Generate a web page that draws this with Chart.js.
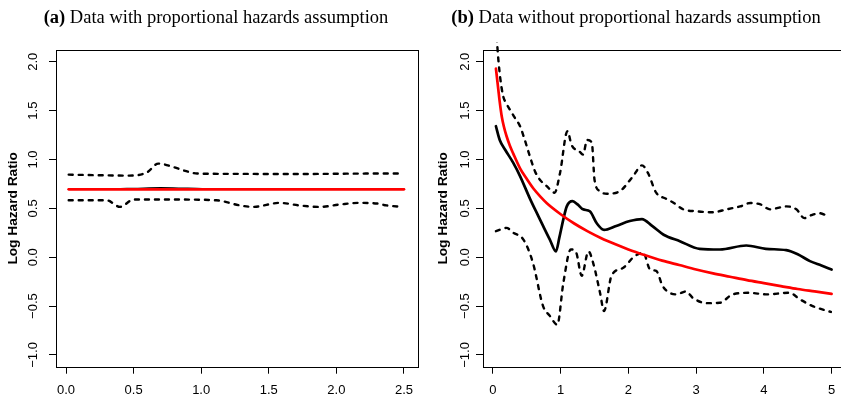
<!DOCTYPE html>
<html><head><meta charset="utf-8">
<script src="https://cdn.jsdelivr.net/npm/chart.js@4/dist/chart.umd.min.js"></script>
<style>
html,body{margin:0;padding:0;background:#fff;overflow:hidden;width:841px;height:398px;position:relative}
#ca{position:absolute;left:0;top:0}
#cb{position:absolute;left:420px;top:0}
</style></head><body>
<canvas id="ca" width="420" height="398"></canvas>
<canvas id="cb" width="430" height="398"></canvas>
<script>
// ---- shared axis ticks ----
const yTicks = [-1, -0.5, 0, 0.5, 1, 1.5, 2];
const yTickLabels = ['\u22121.0', '\u22120.5', '0.0', '0.5', '1.0', '1.5', '2.0'];
const aTicksX = [0, 0.5, 1, 1.5, 2, 2.5];
const aTickLabelsX = ['0.0', '0.5', '1.0', '1.5', '2.0', '2.5'];
const bTicksX = [0, 1, 2, 3, 4, 5];
const bTickLabelsX = ['0', '1', '2', '3', '4', '5'];

// ---- panel (a) ----
const aTrueX = [0.02, 2.5];
const aTrueY = [0.695, 0.695];
const aEstX = [0.02, 0.3, 0.5, 0.7, 0.9, 1.1, 1.5, 2.0, 2.5];
const aEstY = [0.70, 0.70, 0.705, 0.712, 0.706, 0.70, 0.70, 0.70, 0.70];
const aUpX = [0.02, 0.2, 0.47, 0.6, 0.683, 0.79, 0.89, 0.97, 1.2, 1.5, 1.8, 2.1, 2.3, 2.48];
const aUpY = [0.845, 0.84, 0.835, 0.869, 0.958, 0.924, 0.88, 0.856, 0.853, 0.852, 0.852, 0.855, 0.856, 0.856];
const aLoX = [0.02, 0.30, 0.40, 0.50, 0.8, 1.11, 1.29, 1.385, 1.58, 1.73, 1.88, 2.03, 2.17, 2.30, 2.37, 2.49];
const aLoY = [0.583, 0.583, 0.515, 0.59, 0.59, 0.583, 0.529, 0.515, 0.556, 0.529, 0.515, 0.54, 0.556, 0.55, 0.53, 0.515];

// ---- panel (b) ----
const bTrueX = [0.044, 0.08, 0.1, 0.13, 0.16, 0.2, 0.25, 0.3, 0.4, 0.5, 0.6, 0.7, 0.8, 1.0, 1.2, 1.4, 1.6, 1.8, 2.0, 2.25, 2.5, 2.75, 3.0, 3.25, 3.5, 3.75, 4.0, 4.25, 4.5, 4.75, 5.0];
const bTrueY = [1.93, 1.71, 1.59, 1.44, 1.34, 1.24, 1.14, 1.06, 0.91, 0.80, 0.70, 0.62, 0.55, 0.44, 0.345, 0.265, 0.195, 0.135, 0.08, 0.02, -0.035, -0.08, -0.125, -0.165, -0.2, -0.235, -0.265, -0.295, -0.325, -0.35, -0.375];
const bEstX = [0.044, 0.10, 0.18, 0.30, 0.40, 0.546, 0.67, 0.74, 0.84, 0.93, 0.98, 1.04, 1.09, 1.175, 1.25, 1.33, 1.43, 1.53, 1.64, 1.82, 2.02, 2.2, 2.35, 2.52, 2.76, 3.05, 3.35, 3.74, 4.03, 4.33, 4.5, 4.68, 4.85, 5.0];
const bEstY = [1.34, 1.20, 1.10, 0.965, 0.83, 0.60, 0.42, 0.32, 0.18, 0.06, 0.2, 0.39, 0.52, 0.573, 0.54, 0.49, 0.47, 0.35, 0.28, 0.32, 0.37, 0.39, 0.32, 0.23, 0.164, 0.086, 0.079, 0.12, 0.086, 0.072, 0.03, -0.04, -0.085, -0.126];
const bUpX = [0.055, 0.08, 0.11, 0.15, 0.2, 0.25, 0.32, 0.40, 0.47, 0.546, 0.62, 0.69, 0.79, 0.91, 0.99, 1.10, 1.16, 1.28, 1.33, 1.39, 1.46, 1.50, 1.58, 1.68, 1.87, 2.07, 2.20, 2.29, 2.41, 2.55, 2.66, 2.81, 3.0, 3.25, 3.45, 3.65, 3.80, 3.95, 4.09, 4.33, 4.48, 4.60, 4.70, 4.82, 4.95];
const bUpY = [2.25, 2.02, 1.82, 1.65, 1.57, 1.51, 1.43, 1.34, 1.20, 1.03, 0.88, 0.795, 0.73, 0.66, 0.86, 1.29, 1.15, 1.08, 1.05, 1.20, 1.17, 0.79, 0.675, 0.65, 0.675, 0.83, 0.94, 0.86, 0.66, 0.60, 0.56, 0.49, 0.47, 0.46, 0.49, 0.52, 0.555, 0.54, 0.49, 0.52, 0.49, 0.40, 0.43, 0.45, 0.42];
const bLoX = [0.044, 0.20, 0.30, 0.45, 0.59, 0.74, 0.84, 0.95, 1.04, 1.15, 1.23, 1.31, 1.41, 1.48, 1.58, 1.64, 1.75, 1.92, 2.09, 2.22, 2.32, 2.41, 2.51, 2.71, 2.85, 2.95, 3.15, 3.35, 3.54, 3.79, 4.03, 4.38, 4.53, 4.72, 4.99];
const bLoY = [0.266, 0.30, 0.25, 0.18, -0.057, -0.50, -0.60, -0.69, -0.26, 0.08, 0.045, -0.19, 0.06, -0.06, -0.36, -0.55, -0.19, -0.11, 0.01, 0.045, -0.126, -0.14, -0.30, -0.38, -0.35, -0.415, -0.47, -0.466, -0.38, -0.364, -0.38, -0.364, -0.43, -0.50, -0.56];

function pts(xs, ys) { return xs.map((x, i) => ({x: x, y: ys[i]})); }

function decoPlugin(cfg) {
  return {
    id: 'deco',
    beforeDatasetsDraw(chart) {
      const ctx = chart.ctx, a = chart.chartArea;
      ctx.save();
      ctx.strokeStyle = '#000'; ctx.lineWidth = 1;
      ctx.strokeRect(Math.round(a.left) + 0.5, Math.round(a.top) + 0.5, Math.round(a.right - a.left), Math.round(a.bottom - a.top));
      ctx.restore();
    },
    afterDraw(chart) {
      const ctx = chart.ctx, xs = chart.scales.x, ys = chart.scales.y, a = chart.chartArea;
      ctx.save();
      ctx.fillStyle = '#000';
      ctx.font = '13px "Liberation Sans", Arial, sans-serif';
      ctx.textAlign = 'center'; ctx.textBaseline = 'middle';
      xs.ticks.forEach((t, i) => ctx.fillText(cfg.xLabels[i], xs.getPixelForValue(t.value), cfg.xLabelY));
      ys.ticks.forEach((t, i) => {
        ctx.save();
        ctx.translate(cfg.yLabelX, ys.getPixelForValue(t.value));
        ctx.rotate(-Math.PI / 2);
        ctx.fillText(yTickLabels[i], 0, 0);
        ctx.restore();
      });
      ctx.save();
      ctx.font = 'bold 13.7px "Liberation Sans", Arial, sans-serif';
      ctx.translate(cfg.yTitleX, (a.top + a.bottom) / 2);
      ctx.rotate(-Math.PI / 2);
      ctx.fillText('Log Hazard Ratio', 0, 0);
      ctx.restore();
      const fb = 'bold 18.5px "Liberation Serif", "Times New Roman", serif';
      const fn = '18.5px "Liberation Serif", "Times New Roman", serif';
      ctx.textAlign = 'left'; ctx.textBaseline = 'alphabetic';
      ctx.font = fb; const w1 = ctx.measureText(cfg.tb).width;
      ctx.font = fn; const w2 = ctx.measureText(cfg.tr).width;
      const x0 = cfg.titleX - (w1 + w2) / 2;
      ctx.font = fb; ctx.fillText(cfg.tb, x0, 23);
      ctx.font = fn; ctx.fillText(cfg.tr, x0 + w1, 23);
      ctx.restore();
    }
  };
}

function lineDs(data, color, width, dashed, extra) {
  return Object.assign({
    data: data, borderColor: color, borderWidth: width, pointRadius: 0,
    borderDash: dashed ? [4, 6] : [], borderCapStyle: 'round', borderJoinStyle: 'round',
    fill: false, cubicInterpolationMode: 'monotone'
  }, extra || {});
}

function makeChart(id, cfg) {
  return new Chart(document.getElementById(id), {
    type: 'line',
    data: { datasets: cfg.datasets },
    options: {
      responsive: false, animation: false, devicePixelRatio: 1,
      layout: { padding: { left: 0, right: cfg.padRight, top: 50, bottom: 0 } },
      plugins: { legend: { display: false }, tooltip: { enabled: false }, title: { display: false } },
      scales: {
        x: {
          type: 'linear', min: cfg.xMin, max: cfg.xMax,
          afterBuildTicks: s => { s.ticks = cfg.xTicks.map(v => ({ value: v })); },
          afterFit: s => { s.height = 398 - 366.7; },
          ticks: { display: false },
          grid: { drawOnChartArea: false, drawTicks: true, tickLength: 7, color: '#000', tickColor: '#000', lineWidth: 1 },
          border: { display: false }
        },
        y: {
          type: 'linear', min: -1.12, max: 2.12,
          afterBuildTicks: s => { s.ticks = yTicks.map(v => ({ value: v })); },
          afterFit: s => { s.width = cfg.yWidth; },
          ticks: { display: false },
          grid: { drawOnChartArea: false, drawTicks: true, tickLength: 7, color: '#000', tickColor: '#000', lineWidth: 1 },
          border: { display: false }
        }
      }
    },
    plugins: [decoPlugin(cfg)]
  });
}

makeChart('ca', {
  xMin: -0.074, xMax: 2.604, xTicks: aTicksX, xLabels: aTickLabelsX,
  padRight: 2, yWidth: 56, xLabelY: 390, yLabelX: 33, yTitleX: 13, titleX: 216,
  tb: '(a)', tr: ' Data with proportional hazards assumption',
  datasets: [
    lineDs(pts(aTrueX, aTrueY), '#ff0000', 2.8, false),
    lineDs(pts(aEstX, aEstY), '#000000', 1.2, false),
    lineDs(pts(aUpX, aUpY), '#000000', 2.4, true),
    lineDs(pts(aLoX, aLoY), '#000000', 2.4, true)
  ]
});

makeChart('cb', {
  xMin: -0.147, xMax: 5.198, xTicks: bTicksX, xLabels: bTickLabelsX,
  padRight: 5, yWidth: 63, xLabelY: 390, yLabelX: 45, yTitleX: 23, titleX: 216,
  tb: '(b)', tr: ' Data without proportional hazards assumption',
  datasets: [
    lineDs(pts(bTrueX, bTrueY), '#ff0000', 2.7, false),
    lineDs(pts(bEstX, bEstY), '#000000', 2.7, false),
    lineDs(pts(bUpX, bUpY), '#000000', 2.4, true, { clip: { left: 0, top: 8, right: 0, bottom: 0 } }),
    lineDs(pts(bLoX, bLoY), '#000000', 2.4, true)
  ]
});
</script>
</body></html>
